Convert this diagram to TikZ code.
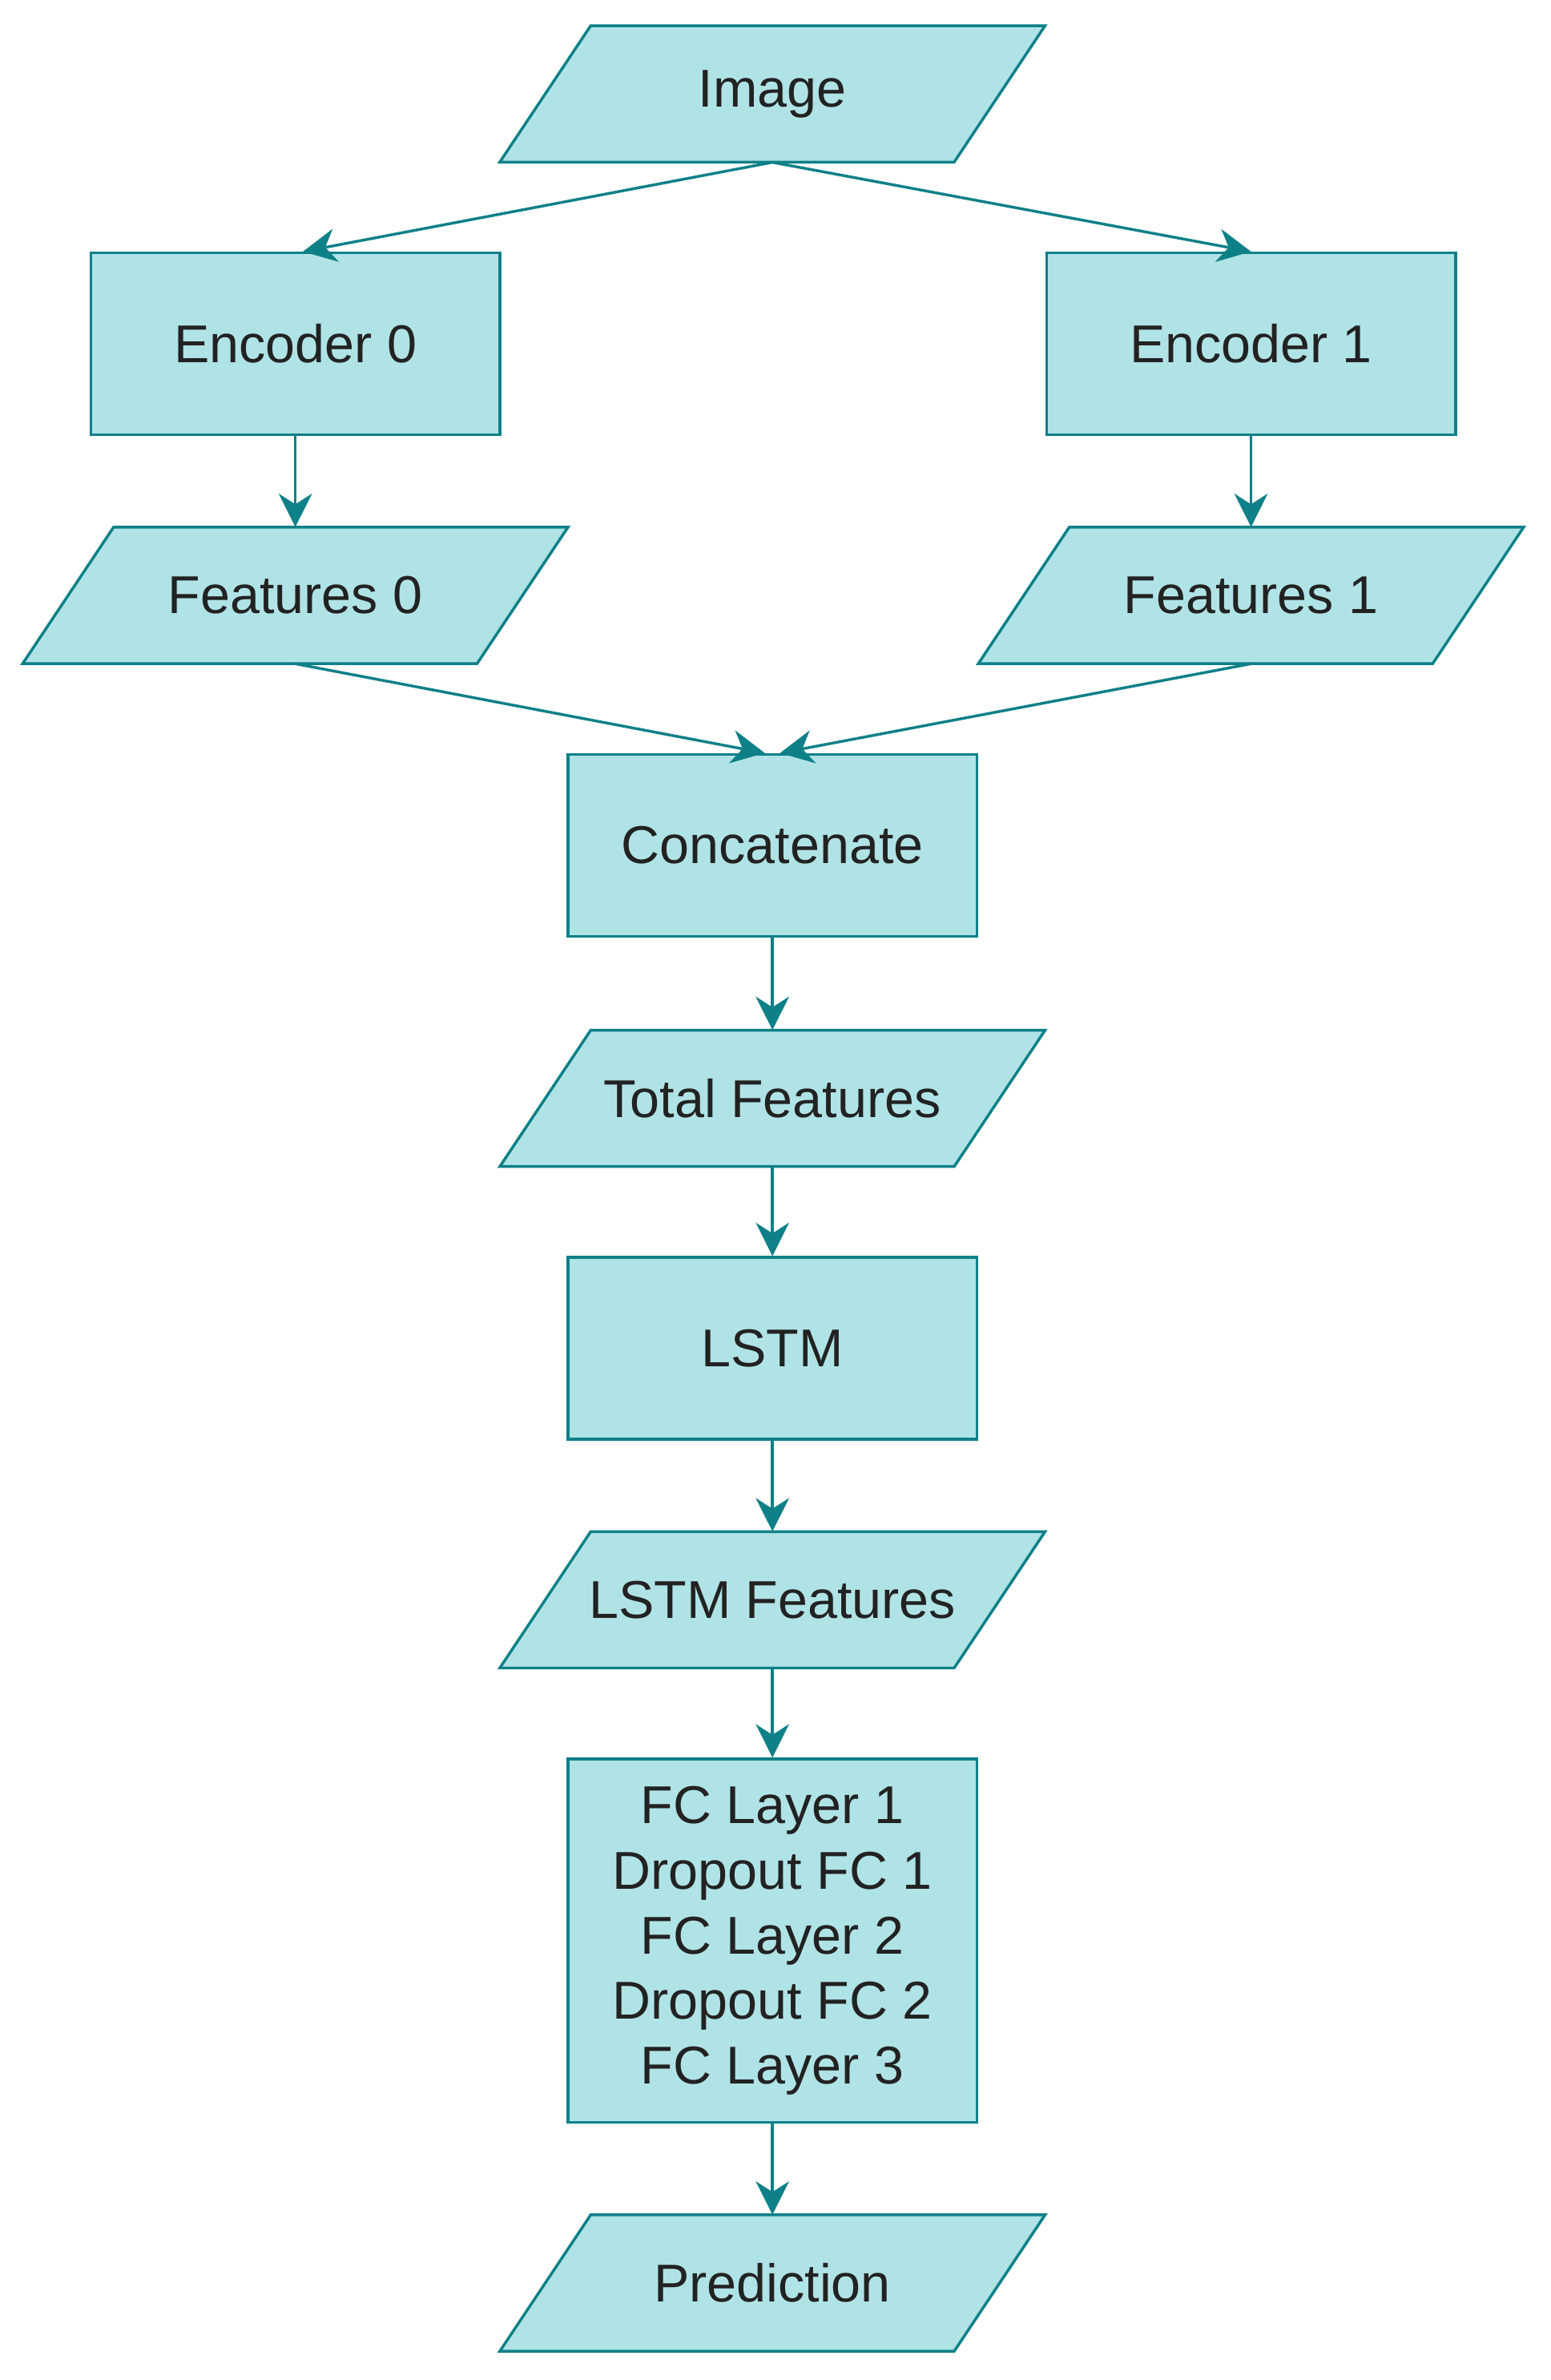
\documentclass[tikz,border=0pt]{standalone}
\usepackage{fontspec}
\setmainfont{Liberation Sans}
\usetikzlibrary{arrows.meta}
\definecolor{fillc}{HTML}{B0E3E6}
\definecolor{strokec}{HTML}{0E8088}
\definecolor{txt}{HTML}{222222}
\tikzset{
  box/.style={draw=strokec,fill=fillc,line width=2.6pt,minimum width=13.5cm,minimum height=6cm,inner sep=0pt,text=txt,font=\fontsize{50}{61}\selectfont,align=center},
  pshape/.style={draw=strokec,fill=fillc,line width=2.6pt},
  pnode/.style={draw=none,minimum width=15cm,minimum height=4.5cm,inner sep=0pt,text=txt,font=\fontsize{50}{61}\selectfont},
  conn/.style={draw=strokec,line width=2.6pt,-{Stealth[length=1.1cm,width=1.1cm,inset=0.35cm]}}
}
\newcommand\para[4]{\draw[pshape] (#2,#3) ++(-120,-45) -- ++(300,0) -- ++(-60,90) -- ++(-300,0) -- cycle; \node[pnode] (#1) at (#2,#3) {#4};}
\begin{document}
\begin{tikzpicture}[x=0.05cm,y=-0.05cm]
\useasboundingbox (0,0) rectangle (1024,1571);
\para{img}{510}{62}{Image}
\node[box] (enc0) at (195,227) {Encoder 0};
\node[box] (enc1) at (826,227) {Encoder 1};
\para{f0}{195}{393}{Features 0}
\para{f1}{826}{393}{Features 1}
\node[box] (cat) at (510,558) {Concatenate};
\para{tot}{510}{725}{Total Features}
\node[box] (lstm) at (510,890) {LSTM};
\para{lf}{510}{1056}{LSTM Features}
\node[box,minimum height=12cm] (fc) at (510,1281) {FC Layer 1\\Dropout FC 1\\FC Layer 2\\Dropout FC 2\\FC Layer 3};
\para{pred}{510}{1507}{Prediction}
\draw[conn] (img.south) -- ([xshift=0.25cm]enc0.north);
\draw[conn] (img.south) -- (enc1.north);
\draw[conn] (enc0) -- (f0);
\draw[conn] (enc1) -- (f1);
\draw[conn] (f0.south) -- ([xshift=-0.25cm]cat.north);
\draw[conn] (f1.south) -- ([xshift=0.25cm]cat.north);
\draw[conn] (cat) -- (tot);
\draw[conn] (tot) -- (lstm);
\draw[conn] (lstm) -- (lf);
\draw[conn] (lf) -- (fc);
\draw[conn] (fc) -- (pred);
\end{tikzpicture}
\end{document}
